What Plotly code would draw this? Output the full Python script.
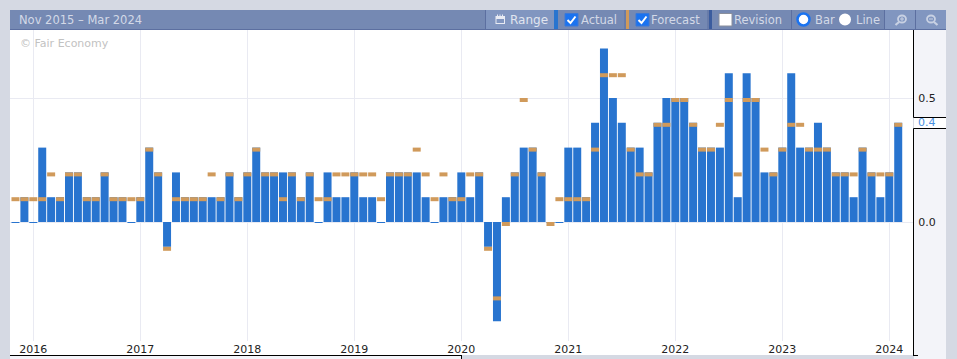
import pandas as pd
import plotly.graph_objects as go

W, H = 957, 359
PL, PR, PT, PB = 10, 913, 30, 341

months = [d.strftime("%Y-%m") for d in pd.date_range("2015-11-01", periods=100, freq="MS")]
actual = [0, .1, 0, .3, .1, .1, .2, .2, .1, .1, .2, .1, .1, 0, .1, .3, .2, -.1, .2, .1,
          .1, .1, .1, .1, .2, .1, .2, .3, .2, .2, .2, .2, .1, .2, 0, .2, .1, .1, .2, .1,
          .1, 0, .2, .2, .2, .2, .1, 0, .1, .1, .2, .1, .2, -.1, -.4, .1, .2, .3, .3, .2,
          0, 0, .3, .3, .1, .4, .7, .5, .4, .3, .3, .2, .4, .5, .5, .5, .4, .3, .3, .3,
          .6, .1, .6, .5, .2, .2, .3, .6, .3, .3, .4, .3, .2, .2, .1, .3, .2, .1, .2, .4]
forecast = [.1, .1, .1, .1, .2, .1, .2, .2, .1, .1, .2, .1, .1, .1, .1, .3, .2, -.1, .1, .1,
            .1, .1, .2, .1, .2, .1, .2, .3, .2, .2, .1, .2, .1, .2, .1, .1, .2, .2, .2, .2,
            .2, .1, .2, .2, .2, .3, .2, .1, .2, .1, .1, .2, .2, -.1, -.3, 0, .2, .5, .3, .2,
            0, .1, .1, .1, .1, .3, .6, .6, .6, .3, .2, .2, .4, .4, .5, .5, .4, .3, .3, .4,
            .5, .2, .5, .5, .3, .2, .3, .4, .4, .3, .3, .3, .2, .2, .2, .3, .2, .2, .2, .4]
year_ticks = ["2016-01", "2017-01", "2018-01", "2019-01", "2020-01", "2021-01", "2022-01", "2023-01", "2024-01"]
year_labels = ["2016", "2017", "2018", "2019", "2020", "2021", "2022", "2023", "2024"]

BLUE, ORANGE = "#2874cf", "#d09a5b"
BG, PANEL, HEAD, HEAD2, LINE = "#d5d9e3", "#f3f4f9", "#7589b3", "#8196c0", "#5c6fa0"
TXT = "#d3d9e7"
ICON = "#c8d1e3"
FONT = "DejaVu Sans"
PPM = 107 / 12
X0 = 15.47
PX_UNIT = 248.0
bar_w = 8 / PPM
mark = 4 / PX_UNIT
thin = 1 / PX_UNIT


def px(x):
    return (x - PL) / (PR - PL)


def py(y):
    return (PB - y) / (PB - PT)


shapes, annos = [], []


def rect(x0, y0, x1, y1, fill, layer="below", line=None):
    shapes.append(dict(type="rect", xref="paper", yref="paper", x0=px(x0), x1=px(x1), y0=py(y0), y1=py(y1),
                       fillcolor=fill, layer=layer,
                       line=dict(width=1 if line else 0, color=line or fill)))


def seg(x0, y0, x1, y1, color, w=1):
    shapes.append(dict(type="line", xref="paper", yref="paper", x0=px(x0), x1=px(x1), y0=py(y0), y1=py(y1),
                       layer="above", line=dict(color=color, width=w)))


def circ(x0, y0, x1, y1, fill, line=None, w=0):
    shapes.append(dict(type="circle", xref="paper", yref="paper", x0=px(x0), x1=px(x1), y0=py(y0), y1=py(y1),
                       fillcolor=fill, layer="above", line=dict(color=line or fill, width=w)))


def text(x, y, s, color=TXT, size=11.5, anchor="left"):
    annos.append(dict(xref="paper", yref="paper", x=px(x), y=py(y), text=s, showarrow=False, xanchor=anchor,
                      yanchor="middle", xshift=0, font=dict(family=FONT, size=size, color=color),
                      borderpad=0, borderwidth=0))


# surrounding frame
rect(PL, 341, PR, 355, "#ffffff")
rect(PL, 355, 461, 359, PANEL)
rect(914, 30, 946, 359, PANEL)
rect(914, 117, 946, 128.5, "#ffffff")
rect(10, 10, 946, 29, HEAD, layer="above")
seg(10, 29.5, 946, 29.5, LINE, 1)
seg(PR + .5, 30, PR + .5, 117.5, "#000000")
seg(PR + .5, 117.5, 946, 117.5, "#000000")
seg(PR + .5, 128.5, 946, 128.5, "#000000")
seg(PR + .5, 128.5, PR + .5, 355.5, "#000000")
seg(10, 355.5, 461, 355.5, "#000000")
seg(461.5, 355, 461.5, 359, "#000000")
seg(PR, 355.5, 918, 355.5, "#000000")

# header
text(19, 20, "Nov 2015 – Mar 2024")
rect(486, 10, 554, 29, HEAD2, layer="above")
rect(554, 10, 558, 29, BLUE, layer="above")
rect(626, 10, 629, 29, ORANGE, layer="above")
rect(709, 10, 712, 29, "#3b5c9e", layer="above")
rect(885, 10, 915, 29, HEAD2, layer="above")
rect(916, 10, 946, 29, HEAD2, layer="above")
for sx in (485.5, 625, 708, 791.5, 884.5, 915.5):
    seg(sx, 10, sx, 29, LINE, 1)
# calendar icon
rect(495.5, 16, 505, 24, "#e8ebf3", layer="above")
rect(496.5, 19, 504, 23, HEAD2, layer="above")
for cx in (497.5, 500, 502.5):
    seg(cx, 14.5, cx, 17, "#e8ebf3", 1)
text(510, 20, "Range", "#e0e5ef", 12)
# checkboxes
for cx0, fill in ((565, "#1a73f0"), (636, "#1a73f0")):
    shapes.append(dict(type="path", xref="paper", yref="paper", layer="above", fillcolor=fill,
                       line=dict(color="#3a78d8", width=1),
                       path=f"M{px(cx0)},{py(13.5)}L{px(cx0 + 13)},{py(13.5)}L{px(cx0 + 13)},{py(26)}L{px(cx0)},{py(26)}Z"))
    shapes.append(dict(type="path", xref="paper", yref="paper", layer="above",
                       line=dict(color="#ffffff", width=2),
                       path=f"M{px(cx0 + 2.5)},{py(20)}L{px(cx0 + 5.5)},{py(23)}L{px(cx0 + 10.5)},{py(16.5)}"))
rect(719, 13.5, 732, 26, "#ffffff", layer="above", line="#8a8f9c")
text(581, 20, "Actual")
text(651, 20, "Forecast")
text(734, 20, "Revision")
# radios
circ(797.5, 13.5, 809.5, 25.5, "#ffffff", "#1a73f0", 2.5)
circ(839, 13.5, 851, 25.5, "#ffffff")
text(815, 20, "Bar")
text(856, 20, "Line")
# magnifier icons
circ(898, 15.5, 906, 22.5, "rgba(0,0,0,0)", ICON, 1.8)
seg(899, 22, 895.5, 25, ICON, 2.2)
seg(900, 19, 904, 19, ICON, 1)
seg(902, 17, 902, 21, ICON, 1)
circ(927, 15.5, 935, 22.5, "rgba(0,0,0,0)", ICON, 1.8)
seg(934, 22, 937.5, 25, ICON, 2.2)
seg(929, 19, 933, 19, ICON, 1)

text(20, 43, "© Fair Economy", "#c2c2c2", 11)
annos.append(dict(xref="paper", yref="y", x=px(927), y=.4, text="0.4", showarrow=False, xanchor="center",
                  yanchor="middle", font=dict(family=FONT, size=11, color="#4a90e2")))

fig = go.Figure()
fig.add_bar(x=months, y=[v if v != 0 else -thin for v in actual], width=bar_w, name="Actual",
            marker=dict(color=BLUE, line=dict(width=0)))
fig.add_bar(x=months, base=forecast, y=[-mark] * len(forecast), width=bar_w, name="Forecast",
            marker=dict(color=ORANGE, line=dict(width=0)))
fig.update_layout(
    width=W, height=H, autosize=False, barmode="overlay", showlegend=False,
    margin=dict(l=PL, r=W - PR, t=PT, b=H - PB, pad=0, autoexpand=False),
    paper_bgcolor=BG, plot_bgcolor="#ffffff", shapes=shapes, annotations=annos,
    font=dict(family=FONT, size=11, color="#222222"),
    xaxis=dict(type="category", categoryorder="array", categoryarray=months, automargin=False,
               range=[(PL - X0) / PPM, (PR - X0) / PPM], tickmode="array", tickvals=year_ticks,
               ticktext=year_labels, showgrid=True, gridcolor="#e9eaf2", gridwidth=1, ticks="", showline=False,
               zeroline=False, tickangle=0),
    yaxis=dict(side="right", automargin=False, range=[-(PB - 222) / PX_UNIT, (222 - PT) / PX_UNIT], tickmode="array",
               tickvals=[0, .5], ticktext=["0.0", "0.5"], showgrid=True, gridcolor="#e9eaf2", gridwidth=1,
               zeroline=False, showline=False, ticks="outside", ticklen=2, tickcolor="rgba(0,0,0,0)"),
)
fig.write_html("out.html", config=dict(displayModeBar=False),
               post_script="document.body.style.margin='0';document.body.style.overflow='hidden';")
